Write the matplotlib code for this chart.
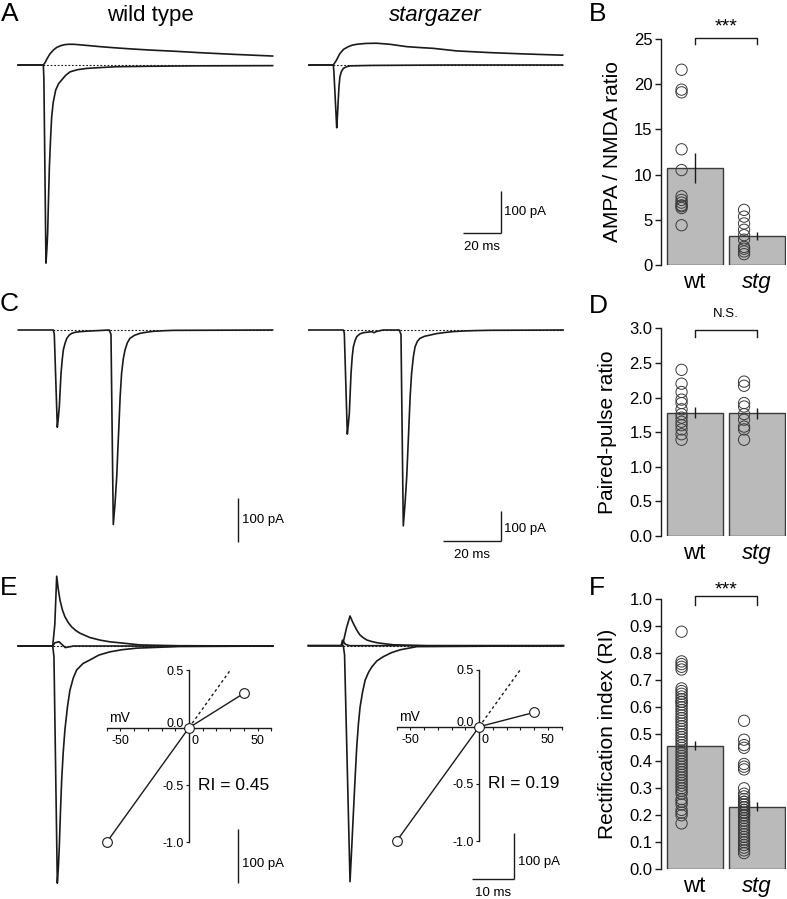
import matplotlib.pyplot as plt
import numpy as np
from matplotlib.transforms import ScaledTranslation

plt.rcParams['font.family'] = ['Liberation Sans', 'DejaVu Sans']
plt.rcParams['axes.unicode_minus'] = False

W, H = 787, 899
INK = '#1a1a1a'

# ---- traces: time (ms from stimulus), current (pA) ----
# A: AMPA (-70 mV) and NMDA (+40 mV) EPSCs
a_wt_ampa_t = [-13.3, 0, 0.3, 1.4, 1.9, 2.3, 2.7, 3.2, 3.8, 4.4, 5.2, 6.5, 8, 9.7, 11.8,
               14.1, 18, 22.8, 30, 38.8, 55, 80, 120.7]
a_wt_ampa_i = [0, 0, -30, -464, -430, -393, -320, -239, -175, -122, -88, -59, -44, -35, -24,
               -16, -11, -8, -6, -4, -3, -2, -1.5]
a_wt_nmda_t = [-13.3, 0, 1, 2, 3.5, 5.3, 7, 9, 11, 13.2, 16, 20, 25, 29.8, 37, 45, 56.2,
               70, 82.5, 100, 120.7]
a_wt_nmda_i = [0, 0, 6, 15, 26, 35, 41, 45, 47.5, 48.5, 48.5, 47, 45, 43, 40.5, 38, 35,
               32, 28.8, 25, 21]
a_stg_ampa_t = [-12.8, 0, 0.3, 1.8, 2.2, 2.6, 3.0, 3.5, 4.3, 5.3, 7, 8.8, 20, 60, 120.7]
a_stg_ampa_i = [0, 0, -15, -147, -118, -82, -50, -27, -15, -8, -4, -2, -1, 0, 0]
a_stg_nmda_t = [-12.8, 0, 1.5, 3.5, 5.5, 7.9, 10, 12.3, 17, 22.8, 29.8, 38.6, 45, 52.6,
                64.9, 82.5, 100, 120.7]
a_stg_nmda_i = [0, 0, 10, 27, 37, 43, 46.5, 48.5, 50.5, 51, 48.5, 43, 41, 39, 33, 29, 26, 23]

# C: paired pulse, 20 ms interval
c_wt_t = [-12.2, 0, 0.35, 1.4, 1.75, 2.1, 2.4, 2.7, 3.1, 3.5, 4.1, 4.7, 5.5, 6.4, 7.8, 9.3,
          12, 15.1, 19.5, 20.1, 20.9, 21.5, 22.1, 22.5, 22.9, 23.3, 23.8, 24.4, 25, 25.8,
          26.7, 28.3, 30.2, 32.5, 34.8, 38, 41.8, 76.4]
c_wt_i = [0, 0, -10, -221, -200, -174, -135, -98, -68, -45, -30, -19, -12, -7.6, -5, -3.8,
          -2.5, -1.5, 0, -10, -442, -395, -333, -270, -212, -150, -98, -65, -45, -29,
          -19, -12, -7.6, -5, -3, -1.8, -0.8, 0]
c_stg_t = [-12, 0, 0.35, 1.4, 1.75, 2.1, 2.4, 2.7, 3.1, 3.5, 4.1, 4.7, 5.8, 7.0, 9.9, 10.7,
           11.5, 13.9, 19.5, 20.1, 20.9, 21.5, 22.1, 22.5, 22.9, 23.3, 23.8, 24.4, 25, 25.8,
           26.7, 28.3, 30.2, 32.5, 34.8, 38, 41.8, 46, 51.1, 76.6]
c_stg_i = [0, 0, -10, -347, -315, -278, -210, -144, -90, -56, -35, -22, -13, -9, -5.6, -9,
           -5, 0, 0, -15, -653, -580, -489, -400, -311, -220, -144, -90, -56, -38,
           -28, -21, -17, -12, -9, -5.5, -3.3, -2, -1, 0]

# E: EPSCs at -60, 0 and +40 mV
e_wt_neg_t = [-8.2, 0, 0.3, 1.1, 1.35, 1.57, 1.85, 2.14, 2.5, 2.9, 3.5, 4.1, 4.9, 5.7, 7.2,
              8.9, 11, 13.6, 16.5, 20, 30, 52.4]
e_wt_neg_i = [0, 0, -20, -445, -415, -377, -310, -251, -200, -158, -115, -83, -60, -45, -33,
              -26, -17, -11, -7, -4, -1, 0]
e_wt_zero_t = [-8.2, 0, 0.5, 1.5, 3, 5, 52.4]
e_wt_zero_i = [0, 0, 6, 8, -3, 0, 0]
e_wt_pos_t = [-8.2, 0, 0.5, 0.95, 1.3, 1.74, 2.3, 2.9, 3.7, 4.5, 5.5, 6.5, 8.8, 11.3, 13.5,
              16, 20.8, 30, 52.4]
e_wt_pos_i = [0, 0, 40, 131, 108, 86, 68, 55, 44, 36, 29, 24, 16, 11, 8, 6, 2, 0.5, 0]
e_stg_neg_t = [-8.3, 0, 0.3, 1.6, 2.0, 2.4, 2.8, 3.2, 3.6, 4, 4.6, 5.2, 6, 6.8, 8, 9.5,
               11.5, 13.5, 17.5, 52.4]
e_stg_neg_i = [0, 0, -20, -513, -440, -364, -290, -220, -170, -133, -100, -75, -58, -46,
               -33, -24, -15, -9, -2, 0]
e_stg_zero_t = [-8.3, -0.5, -0.2, 0.5, 1.5, 52.4]
e_stg_zero_i = [0, 0, 12, 3, 0, 0]
e_stg_pos_t = [-8.3, -0.3, 0, 0.8, 1.6, 2.2, 2.8, 3.4, 4, 4.8, 5.6, 6.8, 8, 10, 11.9, 20, 52.4]
e_stg_pos_i = [0, 0, 8, 40, 64.6, 52, 41, 31, 23, 17, 12.4, 9, 6.5, 4, 2, 0, 0]

# I-V insets (normalised to -60 mV)
iv_mv = [-60, 0, 40]
iv_wt = [-1.0, 0.0, 0.30]
iv_stg = [-1.0, 0.0, 0.125]
ri_example_wt, ri_example_stg = 0.45, 0.19

# ---- summary bars ----
groups = ['wt', 'stg']
ampa_nmda_mean = [10.7, 3.24]
ampa_nmda_sem = [1.65, 0.42]
ampa_nmda_wt = [21.6, 19.4, 19.1, 12.8, 10.5, 7.6, 7.2, 6.9, 6.6, 6.5, 6.3, 4.4]
ampa_nmda_stg = [6.1, 5.35, 4.6, 3.9, 3.3, 2.8, 2.0, 1.8, 1.5, 1.2]

ppr_mean = [1.78, 1.77]
ppr_sem = [0.08, 0.08]
ppr_wt = [2.40, 2.20, 2.08, 1.97, 1.92, 1.83, 1.76, 1.71, 1.65, 1.60, 1.54, 1.47, 1.39]
ppr_stg = [2.23, 2.17, 1.92, 1.87, 1.76, 1.68, 1.58, 1.54, 1.39]

ri_mean = [0.458, 0.232]
ri_sem = [0.016, 0.016]
ri_wt = [0.88, 0.77, 0.76, 0.75, 0.74, 0.67, 0.66, 0.65, 0.64, 0.63, 0.62, 0.62, 0.61,
         0.60, 0.59, 0.58, 0.57, 0.56, 0.55, 0.54, 0.53, 0.52, 0.51, 0.50, 0.49, 0.48,
         0.47, 0.46, 0.45, 0.44, 0.43, 0.42, 0.41, 0.40, 0.39, 0.38, 0.37, 0.36, 0.35,
         0.34, 0.33, 0.32, 0.31, 0.30, 0.29, 0.28, 0.26, 0.25, 0.24, 0.22, 0.21, 0.20, 0.17]
ri_stg = [0.55, 0.48, 0.46, 0.45, 0.39, 0.38, 0.37, 0.30, 0.28, 0.27, 0.26, 0.25, 0.25,
          0.24, 0.24, 0.23, 0.23, 0.22, 0.22, 0.21, 0.21, 0.20, 0.20, 0.19, 0.18, 0.17,
          0.16, 0.15, 0.14, 0.13, 0.12, 0.11, 0.10, 0.09, 0.08, 0.07, 0.06]

fig = plt.figure(figsize=(W / 100, H / 100), dpi=100)


def px_axes(x0, y0, x1, y1):
    ax = fig.add_axes([x0 / W, 1 - y1 / H, (x1 - x0) / W, (y1 - y0) / H])
    ax.patch.set_alpha(0)
    return ax


def ftext(x, y, s, **kw):
    fig.text(x / W, 1 - y / H, s, **kw)


def trace_axes(box, xs, yb, sx, sy):
    # xs, yb: pixel of stimulus / baseline; sx px per ms, sy px per pA
    x0, y0, x1, y1 = box
    ax = px_axes(*box)
    ax.set_xlim((x0 - xs) / sx, (x1 - xs) / sx)
    ax.set_ylim((yb - y1) / sy, (yb - y0) / sy)
    ax.axis('off')
    conv = lambda x, y: ((x - xs) / sx, (yb - y) / sy)
    return ax, conv


def traces(ax, pairs, t_end):
    ax.plot([0, t_end], [0, 0], ls=(0, (1.6, 1.6)), color=INK, lw=0.8)
    for t, i in pairs:
        ax.plot(t, i, color=INK, lw=1.2, solid_joinstyle='round')


def scalebar(ax, conv, x, y, pa=100, ms=None):
    t, i = conv(x, y)
    ax.plot([t, t], [i, i + pa], color=INK, lw=1.0, solid_capstyle='butt')
    if ms:
        ax.plot([t - ms, t], [i, i], color=INK, lw=1.0, solid_capstyle='butt')


# panel A
ax, cv = trace_axes((5, 30, 285, 285), 43.3, 65, 1.9, 0.427)
traces(ax, [(a_wt_ampa_t, a_wt_ampa_i), (a_wt_nmda_t, a_wt_nmda_i)], 120.7)
ax, cv = trace_axes((295, 30, 580, 285), 333.3, 65, 1.9, 0.427)
traces(ax, [(a_stg_ampa_t, a_stg_ampa_i), (a_stg_nmda_t, a_stg_nmda_i)], 120.7)
scalebar(ax, cv, 500.7, 233.3, 100, 20)
ftext(503.5, 212, '100 pA', fontsize=9.5, va='center')
ftext(481.7, 247, '20 ms', fontsize=9.5, va='center', ha='center')

# panel C
ax, cv = trace_axes((5, 300, 285, 570), 53.3, 330, 2.87, 0.44)
traces(ax, [(c_wt_t, c_wt_i)], 76.4)
scalebar(ax, cv, 238.3, 542.3, 100)
ftext(241.5, 520, '100 pA', fontsize=9.5, va='center')
ax, cv = trace_axes((295, 300, 580, 570), 343.3, 330, 2.87, 0.30)
traces(ax, [(c_stg_t, c_stg_i)], 76.6)
scalebar(ax, cv, 500.7, 540.7, 100, 20)
ftext(503.5, 529, '100 pA', fontsize=9.5, va='center')
ftext(472, 555, '20 ms', fontsize=9.5, va='center', ha='center')

# panel E
ax, cv = trace_axes((5, 570, 285, 899), 52.7, 646, 4.2, 0.533)
traces(ax, [(e_wt_neg_t, e_wt_neg_i), (e_wt_zero_t, e_wt_zero_i), (e_wt_pos_t, e_wt_pos_i)], 52.4)
scalebar(ax, cv, 238.3, 882.7, 100)
ftext(241.5, 864, '100 pA', fontsize=9.5, va='center')
ax, cv = trace_axes((295, 570, 580, 899), 343.3, 645.7, 4.2, 0.46)
traces(ax, [(e_stg_neg_t, e_stg_neg_i), (e_stg_zero_t, e_stg_zero_i), (e_stg_pos_t, e_stg_pos_i)], 52.4)
scalebar(ax, cv, 514.3, 879.3, 100, 10)
ftext(517.5, 862, '100 pA', fontsize=9.5, va='center')
ftext(493.3, 893, '10 ms', fontsize=9.5, va='center', ha='center')


def iv_inset(box, x0mv, sx, y0, sy, vals, ri):
    bx0, by0, bx1, by1 = box
    ax = px_axes(*box)
    ax.set_xlim((bx0 - x0mv) / sx, (bx1 - x0mv) / sx)
    ax.set_ylim((y0 - by1) / sy, (y0 - by0) / sy)
    for s in ['top', 'right']:
        ax.spines[s].set_visible(False)
    ax.spines['left'].set_position(('data', 0))
    ax.spines['bottom'].set_position(('data', 0))
    ax.spines['left'].set_bounds(-1, 0.5)
    ax.spines['bottom'].set_bounds(-60, 60)
    for s in ['left', 'bottom']:
        ax.spines[s].set_linewidth(1.0)
        ax.spines[s].set_color(INK)
    ax.set_xticks([-50, 0, 50])
    ax.set_xticklabels(['-50', '0', '50'])
    ax.set_xticks(np.arange(-60, 61, 10), minor=True)
    ax.set_yticks([-1.0, -0.5, 0.0, 0.5])
    ax.set_yticklabels(['-1.0', '-0.5', '0.0', '0.5'])
    ax.tick_params(which='both', direction='out', length=2.5, width=0.8, color=INK,
                   labelsize=9, pad=1.2)
    ax.tick_params(axis='x', pad=3)
    lab0 = ax.get_xticklabels()[1]
    lab0.set_transform(lab0.get_transform() + ScaledTranslation(0.06, 0, fig.dpi_scale_trans))
    laby = ax.get_yticklabels()[2]
    laby.set_transform(laby.get_transform() + ScaledTranslation(0, 0.05, fig.dpi_scale_trans))
    ax.plot([0, 30], [0, 0.5], ls=(0, (2, 2)), color=INK, lw=1.0)
    ax.plot(iv_mv, vals, color=INK, lw=1.0, marker='o', ms=7, mfc='white', mec=INK, mew=0.8,
            zorder=3, clip_on=False)
    ax.text(-58, 0.025, 'mV', fontsize=10, va='bottom', ha='left')
    ax.text(32.5, -0.5, 'RI = %.2f' % ri, fontsize=12.5, va='center', ha='center')


iv_inset((95, 660, 280, 850), 189, 1.373, 727.7, 114.7, iv_wt, ri_example_wt)
iv_inset((385, 660, 570, 850), 479.2, 1.375, 726.7, 114.3, iv_stg, ri_example_stg)


def bar_panel(box, ymax, yticks, fmt, means, sems, pts, ylabel, mark, mark_y, br_top, br_bot, mark_size):
    ax = px_axes(*box)
    ax.set_xlim(-0.539, 1.461)
    ax.set_ylim(0, ymax)
    x = np.arange(len(groups))
    ax.bar(x, means, width=0.9, color='#bababa', edgecolor='#3a3a3a', linewidth=1.0, zorder=1)
    ax.vlines(x, np.array(means) - np.array(sems), np.array(means) + np.array(sems),
              color=INK, lw=1.0, zorder=3)
    for xi, p in zip(x, pts):
        ax.scatter(np.full(len(p), xi - 0.21), p, s=66, facecolors='none',
                   edgecolors='#3a3a3a', linewidths=0.7, zorder=2, clip_on=False)
    for s in ['top', 'right', 'bottom']:
        ax.spines[s].set_visible(False)
    ax.spines['left'].set_linewidth(1.0)
    ax.spines['left'].set_color(INK)
    ax.set_yticks(yticks)
    ax.set_yticklabels([fmt % v for v in yticks])
    ax.tick_params(axis='y', direction='out', length=4, width=1.0, labelsize=12, pad=2, color=INK)
    ax.set_xticks(x)
    ax.set_xticklabels(groups)
    ax.get_xticklabels()[1].set_style('italic')
    ax.tick_params(axis='x', length=0, pad=5, labelsize=16)
    ax.set_ylabel(ylabel, fontsize=15, labelpad=9)
    ax.plot([0, 0, 1, 1], [br_bot, br_top, br_top, br_bot], color=INK, lw=1.0, clip_on=False)
    ax.text(0.5, mark_y, mark, ha='center', va='center', fontsize=mark_size)
    return ax


bar_panel((661, 39, 786, 265), 25, [0, 5, 10, 15, 20, 25], '%d', ampa_nmda_mean, ampa_nmda_sem,
          [ampa_nmda_wt, ampa_nmda_stg], 'AMPA / NMDA ratio', '***', 26.3, 25.14, 24.5, 14)
bar_panel((661, 328.3, 786, 536), 3, [0, 0.5, 1.0, 1.5, 2.0, 2.5, 3.0], '%.1f', ppr_mean, ppr_sem,
          [ppr_wt, ppr_stg], 'Paired-pulse ratio', 'N.S.', 3.2, 2.98, 2.88, 9.5)
bar_panel((661, 599.3, 786, 869.3), 1, np.round(np.arange(0, 1.01, 0.1), 1), '%.1f', ri_mean, ri_sem,
          [ri_wt, ri_stg], 'Rectification index (RI)', '***', 1.035, 1.012, 0.979, 14)

# labels
for lbl, x, y in [('A', 1, 14), ('B', 589, 14), ('C', 0, 304), ('D', 589, 306),
                  ('E', 0, 588), ('F', 589, 588)]:
    ftext(x, y, lbl, fontsize=19, va='center', ha='left')
ftext(150, 16, 'wild type', fontsize=16, va='center', ha='center')
ftext(435, 16, 'stargazer', fontsize=16, va='center', ha='center', style='italic')

fig.savefig('out.png', dpi=100)
